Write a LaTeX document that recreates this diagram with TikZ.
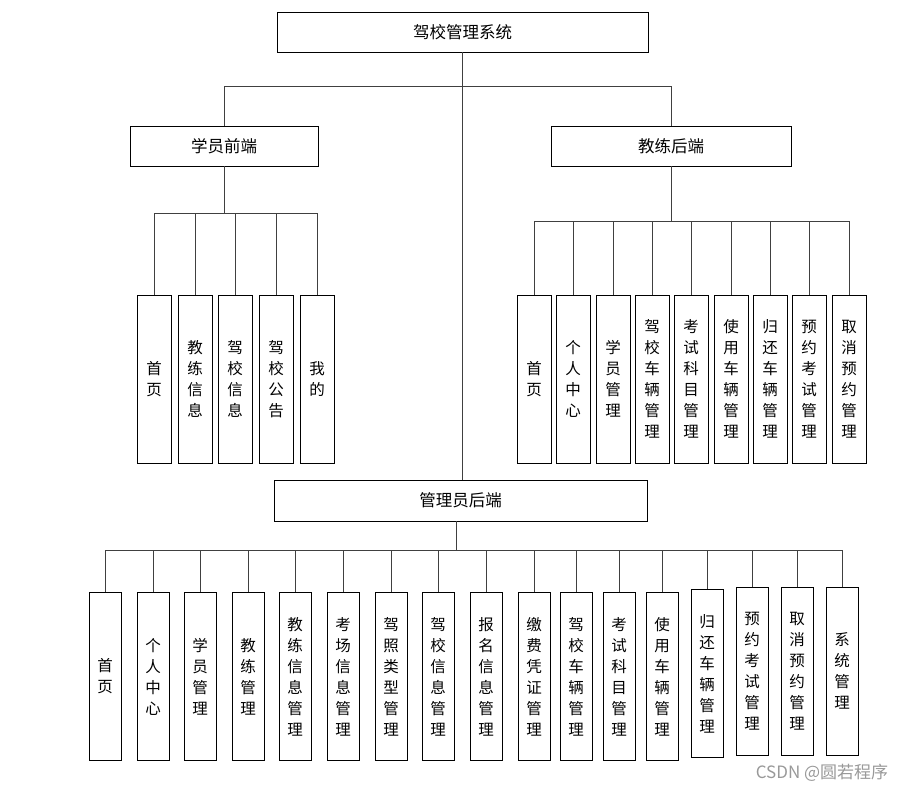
\documentclass[tikz,border=0pt]{standalone}
\usepackage{fontspec}
\setmainfont{Noto Sans CJK SC}
\usepackage{xcolor}

\tikzset{
    topbox/.style={draw, minimum height=40, inner sep=0, font=\fontsize{16.5}{20}\selectfont},
    leafbox/.style={draw, minimum width=34, minimum height=168, inner sep=0, align=center, font=\fontsize{15.5}{21}\selectfont},
    link/.style={draw=black!75, line width=0.8pt}
}

\begin{document}
\begin{tikzpicture}[x=1pt, y=-1pt]
    \useasboundingbox (0,0) rectangle (906,792);

    % Top level
    \node[topbox, minimum width=371] (sys) at (462.5,32) {驾校管理系统};
    \node[topbox, minimum width=188] (stu) at (224,146) {学员前端};
    \node[topbox, minimum width=240] (coach) at (671,146) {教练后端};
    \node[topbox, minimum width=373, minimum height=41] (admin) at (460.5,500.5) {管理员后端};

    % System -> three ends
    \draw[link] (sys.south) -- ++(0,34) coordinate (mainbus);
    \draw[link] (mainbus -| stu.north) -- (mainbus -| coach.north);
    \draw[link] (mainbus -| stu.north) -- (stu.north);
    \draw[link] (mainbus -| coach.north) -- (coach.north);
    \draw[link] (sys.south) -- (sys.south |- admin.north);

    % Student front end (5 pages)
    \foreach \i/\xx/\txt in {1/154/{首\\页}, 2/195/{教\\练\\信\\息}, 3/235/{驾\\校\\信\\息},
                             4/276/{驾\\校\\公\\告}, 5/317/{我\\的}}
        \node[leafbox] (s\i) at (\xx,379) {\txt};
    \draw[link] (stu.south) -- ++(0,47) coordinate (stubus);
    \draw[link] (stubus -| s1.north) -- (stubus -| s5.north);
    \foreach \i in {1,...,5} \draw[link] (stubus -| s\i.north) -- (s\i.north);

    % Coach back end (9 modules)
    \foreach \i/\xx/\txt in {1/534/{首\\页}, 2/573/{个\\人\\中\\心}, 3/613/{学\\员\\管\\理},
                             4/652/{驾\\校\\车\\辆\\管\\理}, 5/691/{考\\试\\科\\目\\管\\理},
                             6/731/{使\\用\\车\\辆\\管\\理}, 7/770/{归\\还\\车\\辆\\管\\理},
                             8/809/{预\\约\\考\\试\\管\\理}, 9/849/{取\\消\\预\\约\\管\\理}}
        \node[leafbox] (c\i) at (\xx,379) {\txt};
    \draw[link] (coach.south) -- ++(0,55) coordinate (coachbus);
    \draw[link] (coachbus -| c1.north) -- (coachbus -| c9.north);
    \foreach \i in {1,...,9} \draw[link] (coachbus -| c\i.north) -- (c\i.north);

    % Admin back end (17 modules)
    \foreach \i/\xx/\yy/\txt in {1/105/676.5/{首\\页}, 2/153/676.5/{个\\人\\中\\心},
                                 3/200/676.5/{学\\员\\管\\理}, 4/248/676.5/{教\\练\\管\\理},
                                 5/295/676.5/{教\\练\\信\\息\\管\\理}, 6/343/676.5/{考\\场\\信\\息\\管\\理},
                                 7/391/676.5/{驾\\照\\类\\型\\管\\理}, 8/438/676.5/{驾\\校\\信\\息\\管\\理},
                                 9/486/676.5/{报\\名\\信\\息\\管\\理}, 10/534/676.5/{缴\\费\\凭\\证\\管\\理},
                                 11/576/676.5/{驾\\校\\车\\辆\\管\\理}, 12/619/676.5/{考\\试\\科\\目\\管\\理},
                                 13/662/676.5/{使\\用\\车\\辆\\管\\理}, 14/707/673.5/{归\\还\\车\\辆\\管\\理},
                                 15/752/671/{预\\约\\考\\试\\管\\理}, 16/797/671/{取\\消\\预\\约\\管\\理},
                                 17/842/671/{系\\统\\管\\理}}
        \node[leafbox, minimum width=32] (a\i) at (\xx,\yy) {\txt};
    \draw[link] (admin.south) ++(-4.5,0) -- ++(0,29) coordinate (adminbus);
    \draw[link] (adminbus -| a1.north) -- (adminbus -| a17.north);
    \foreach \i in {1,...,17} \draw[link] (adminbus -| a\i.north) -- (a\i.north);

    % Watermark
    \node[text=black!40, font=\fontsize{17}{19}\selectfont] (mark) at (822,773) {CSDN @圆若程序};
\end{tikzpicture}
\end{document}
